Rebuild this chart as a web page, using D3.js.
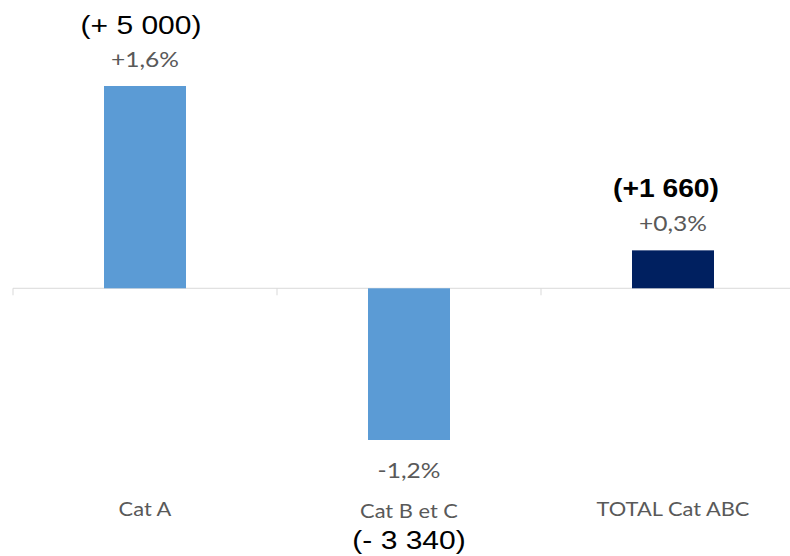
<!DOCTYPE html>
<html><head><meta charset="utf-8">
<script src="https://cdn.jsdelivr.net/npm/d3@7"></script>
<style>body{margin:0;background:#fff}</style>
</head><body>
<svg id="c" width="790" height="556"></svg>
<script>
const categories = ["Cat A", "Cat B et C", "TOTAL Cat ABC"];
const values = [1.6, -1.2, 0.3];
const pctLabels = ["+1,6%", "-1,2%", "+0,3%"];
const countLabels = ["(+ 5 000)", "(- 3 340)", "(+1 660)"];
const colors = ["#5B9BD5", "#5B9BD5", "#002060"];

const svg = d3.select("#c");
const x = d3.scaleBand().domain(categories).range([13, 805]).paddingInner(0.69).paddingOuter(0.345);
const y = d3.scaleLinear().domain([-1.2, 1.6]).range([440, 86]);
const band = x.step();
const cx = c => 13 + band * categories.indexOf(c) + band / 2;
const bw = 82;

// axis line + ticks
const axisG = svg.append("g").attr("transform", `translate(0,${y(0)})`);
axisG.append("line").attr("x1", 13).attr("x2", 790).attr("stroke", "#d9d9d9").attr("stroke-width", 1);
[0, 1, 2].forEach(i => {
  axisG.append("line").attr("x1", 13 + band * i).attr("x2", 13 + band * i).attr("y1", 0).attr("y2", 7)
    .attr("stroke", "#d9d9d9");
});

svg.selectAll("rect.bar").data(categories).enter().append("rect")
  .attr("x", c => cx(c) - bw / 2)
  .attr("width", bw)
  .attr("y", (c, i) => y(Math.max(0, values[i])))
  .attr("height", (c, i) => Math.abs(y(values[i]) - y(0)))
  .attr("fill", (c, i) => colors[i]);

const gray = "#595959";
const pctFont = "Lato, 'Open Sans', sans-serif";
// percent labels
svg.selectAll("text.pct").data(categories).enter().append("text")
  .attr("transform", (c, i) => `translate(${cx(c)},${values[i] >= 0 ? y(values[i]) - 19 : y(values[i]) + 38}) scale(1.17,1)`)
  .attr("text-anchor", "middle")
  .attr("font-family", pctFont).attr("font-size", 21).attr("fill", gray)
  .text((c, i) => pctLabels[i]);

// category labels
svg.selectAll("text.cat").data(categories).enter().append("text")
  .attr("transform", (c, i) => `translate(${cx(c)},${i === 1 ? 518 : 516}) scale(1.15,1)`)
  .attr("text-anchor", "middle")
  .attr("font-family", pctFont).attr("font-size", 19).attr("fill", gray)
  .text(c => c);

// count labels
const countY = [34, 549, 197];
const countX = [141, 409, 666];
svg.selectAll("text.cnt").data(categories).enter().append("text")
  .attr("transform", (c, i) => `translate(${countX[i]},${countY[i]}) scale(${i === 2 ? 1.13 : 1.2},1)`)
  .attr("text-anchor", "middle")
  .attr("font-family", "'Liberation Sans', Arial, sans-serif")
  .attr("font-size", 25)
  .attr("font-weight", (c, i) => i === 2 ? "bold" : "normal")
  .attr("fill", "#000")
  .text((c, i) => countLabels[i]);
</script>
</body></html>
